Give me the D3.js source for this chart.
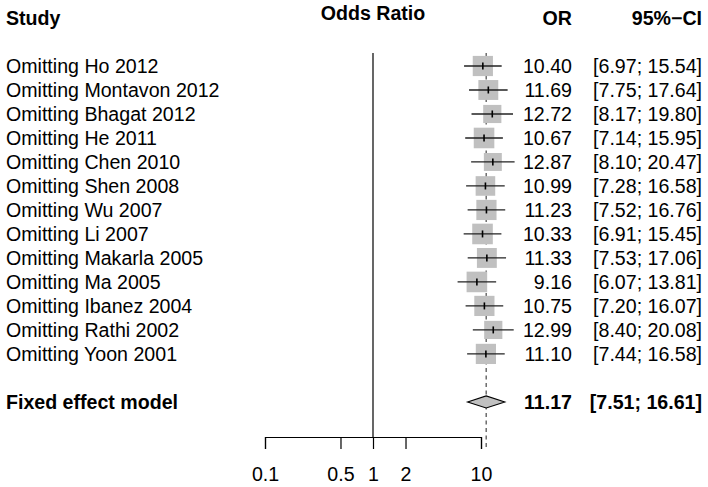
<!DOCTYPE html>
<html>
<head>
<meta charset="utf-8">
<script src="https://cdn.jsdelivr.net/npm/d3@7/dist/d3.min.js"></script>
<style>
  html, body { margin: 0; padding: 0; background: #ffffff; }
  svg text { font-family: "Liberation Sans", Arial, Helvetica, sans-serif; fill: #000; }
</style>
</head>
<body>
<svg id="chart" width="708" height="487"></svg>
<script>
// ---- data ----
const studies = ["Omitting Ho 2012", "Omitting Montavon 2012", "Omitting Bhagat 2012", "Omitting He 2011",
  "Omitting Chen 2010", "Omitting Shen 2008", "Omitting Wu 2007", "Omitting Li 2007",
  "Omitting Makarla 2005", "Omitting Ma 2005", "Omitting Ibanez 2004", "Omitting Rathi 2002",
  "Omitting Yoon 2001"];
const orValues = [10.40, 11.69, 12.72, 10.67, 12.87, 10.99, 11.23, 10.33, 11.33, 9.16, 10.75, 12.99, 11.10];
const ciLower  = [6.97, 7.75, 8.17, 7.14, 8.10, 7.28, 7.52, 6.91, 7.53, 6.07, 7.20, 8.40, 7.44];
const ciUpper  = [15.54, 17.64, 19.80, 15.95, 20.47, 16.58, 16.76, 15.45, 17.06, 13.81, 16.07, 20.08, 16.58];
const relWeights = [1.00, 0.97, 0.81, 1.04, 0.79, 0.94, 1.00, 1.04, 0.97, 1.04, 1.00, 0.81, 1.00];
const pooledLabel = "Fixed effect model";
const pooledOR = 11.17, pooledLower = 7.51, pooledUpper = 16.61;
const tickValues = [0.1, 0.5, 1, 2, 10];
const tickLabels = ["0.1", "0.5", "1", "2", "10"];
const headers = { study: "Study", axis: "Odds Ratio", or: "OR", ci: "95%\u2212CI" };

// ---- layout ----
const svg = d3.select("#chart");
const FS = 19.6;
const x = d3.scaleLog().domain([0.1, 10]).range([265, 481]);
const y = d3.scaleLinear().domain([0, 14]).range([66, 401.9]);
const boxSide = d3.scaleSqrt().domain([0, 1]).range([0, 20.2]);
const xLabel = 6, xOR = 572, xCI = 702;
const yTop = 53, yAxis = 437;
const fmt = d3.format(".2f");

// headers
svg.append("text").attr("x", xLabel).attr("y", y(-2)).attr("dy", "0.35em")
  .attr("font-size", FS).attr("font-weight", "bold").text(headers.study);
svg.append("text").attr("x", x(1)).attr("y", y(-2) - 5).attr("dy", "0.35em")
  .attr("text-anchor", "middle").attr("font-size", FS).attr("font-weight", "bold").text(headers.axis);
svg.append("text").attr("x", xOR).attr("y", y(-2)).attr("dy", "0.35em")
  .attr("text-anchor", "end").attr("font-size", FS).attr("font-weight", "bold").text(headers.or);
svg.append("text").attr("x", xCI).attr("y", y(-2)).attr("dy", "0.35em")
  .attr("text-anchor", "end").attr("font-size", FS).attr("font-weight", "bold").text(headers.ci);

// reference line at 1
svg.append("line").attr("x1", x(1)).attr("x2", x(1)).attr("y1", yTop).attr("y2", yAxis)
  .attr("stroke", "#000").attr("stroke-width", 1.2);

// dashed pooled line
svg.append("line").attr("x1", x(pooledOR)).attr("x2", x(pooledOR)).attr("y1", yTop).attr("y2", yAxis + 10)
  .attr("stroke", "#555").attr("stroke-width", 1.3).attr("stroke-dasharray", "4,3.5");

// study rows
const rows = studies.map((s, i) => ({ s, i, or: orValues[i], lo: ciLower[i], hi: ciUpper[i], w: relWeights[i] }));
const g = svg.append("g");
rows.forEach(d => {
  const cy = y(d.i);
  const side = boxSide(d.w);
  g.append("rect").attr("x", x(d.or) - side / 2).attr("y", cy - side / 2)
    .attr("width", side).attr("height", side).attr("fill", "#c0c0c0");
  g.append("line").attr("x1", x(d.lo)).attr("x2", x(d.hi)).attr("y1", cy).attr("y2", cy)
    .attr("stroke", "#222").attr("stroke-width", 1.3);
  g.append("line").attr("x1", x(d.or)).attr("x2", x(d.or)).attr("y1", cy - 3.5).attr("y2", cy + 3.5)
    .attr("stroke", "#000").attr("stroke-width", 1.6);
  g.append("text").attr("x", xLabel).attr("y", cy).attr("dy", "0.35em").attr("font-size", FS).text(d.s);
  g.append("text").attr("x", xOR).attr("y", cy).attr("dy", "0.35em").attr("text-anchor", "end")
    .attr("font-size", FS).text(fmt(d.or));
  g.append("text").attr("x", xCI).attr("y", cy).attr("dy", "0.35em").attr("text-anchor", "end")
    .attr("font-size", FS).text("[" + fmt(d.lo) + "; " + fmt(d.hi) + "]");
});

// pooled row
const py = y(14);
svg.append("path")
  .attr("d", `M${x(pooledLower)},${py} L${x(pooledOR)},${py - 6} L${x(pooledUpper)},${py} L${x(pooledOR)},${py + 6} Z`)
  .attr("fill", "#c0c0c0").attr("stroke", "#000").attr("stroke-width", 1.1);
svg.append("text").attr("x", xLabel).attr("y", py).attr("dy", "0.35em").attr("font-size", FS)
  .attr("font-weight", "bold").text(pooledLabel);
svg.append("text").attr("x", xOR).attr("y", py).attr("dy", "0.35em").attr("text-anchor", "end")
  .attr("font-size", FS).attr("font-weight", "bold").text(fmt(pooledOR));
svg.append("text").attr("x", xCI).attr("y", py).attr("dy", "0.35em").attr("text-anchor", "end")
  .attr("font-size", FS).attr("font-weight", "bold")
  .text("[" + fmt(pooledLower) + "; " + fmt(pooledUpper) + "]");

// x axis
const axis = d3.axisBottom(x).tickValues(tickValues)
  .tickFormat((v, i) => tickLabels[i]).tickSizeOuter(0).tickSize(12).tickPadding(18);
const ag = svg.append("g").attr("transform", `translate(0,${yAxis})`).call(axis);
ag.select(".domain").attr("stroke", "#000").attr("stroke-width", 1.2);
ag.selectAll(".tick line").attr("stroke", "#000").attr("stroke-width", 1.2);
ag.selectAll(".tick text").attr("font-size", FS).attr("font-family", "Liberation Sans, Arial, sans-serif").attr("fill", "#000");
</script>
</body>
</html>
